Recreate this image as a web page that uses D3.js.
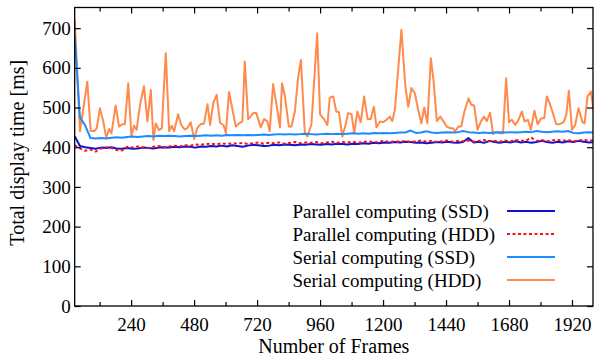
<!DOCTYPE html>
<html>
<head>
<meta charset="utf-8">
<script src="https://cdn.jsdelivr.net/npm/d3@7/dist/d3.min.js"></script>
<style>
  html, body { margin: 0; padding: 0; background: #fff; }
  svg { display: block; }
  text { font-family: "Liberation Serif", "Times New Roman", serif; fill: #000; }
</style>
</head>
<body>
<svg id="chart" width="595" height="360"></svg>
<script>
// ---------------- DATA ----------------
const majorTicksX = [240, 480, 720, 960, 1200, 1440, 1680, 1920];
const minorTicksX = [120, 360, 600, 840, 1080, 1320, 1560, 1800];
const ticksY = [0, 100, 200, 300, 400, 500, 600, 700];

const seriesNames = ["Parallel computing (SSD)", "Parallel computing (HDD)", "Serial computing (SSD)", "Serial computing (HDD)"];

// frames shared by the three flat series (every 20 frames)
const flatFrames = d3.range(25, 2006, 20);

const parallelSSD = [428,403,400,398,396,399,398,400,397,396,398,396,397,399,398,397,399,400,399,401,
  400,402,401,399,402,401,403,402,404,402,405,403,401,404,406,405,403,404,406,405,
  407,406,405,407,406,408,407,406,408,407,409,408,407,409,408,410,409,411,410,412,
  411,413,412,414,413,411,412,410,411,413,412,414,412,411,413,423,412,414,411,416,
  413,411,414,412,415,412,414,411,413,416,413,411,414,412,415,413,416,414,412,413];

const parallelHDD = [405,397,391,394,389,397,400,398,393,392,401,399,402,400,398,401,403,400,402,404,
  402,405,404,407,406,408,409,407,410,408,410,409,411,408,410,412,409,411,410,412,
  409,411,413,410,412,411,413,410,412,414,411,413,412,414,411,413,415,412,414,416,
  413,415,414,416,413,415,417,414,416,413,415,417,414,416,415,417,414,416,418,415,
  416,414,417,415,418,416,417,424,416,418,415,417,419,416,418,415,417,419,416,418];

const serialSSD = [680,475,455,423,422,423,422,424,425,424,426,427,426,427,428,427,429,428,429,428,
  427,428,429,428,429,430,429,430,429,431,430,431,430,431,430,431,432,431,432,433,
  432,433,432,433,434,433,432,433,434,433,434,433,434,435,434,435,434,436,435,436,
  435,436,437,437,442,436,437,440,437,436,437,438,437,438,441,438,437,436,437,436,
  437,438,437,438,437,438,439,438,441,439,438,439,440,439,441,436,435,437,438,437];

// serial HDD has its own (irregular) frame positions
const serialHDDFrames = [25,45,73,86,101,109,121,134,145,156,
  165,181,194,206,216,229,241,251,261,274,
  289,302,315,325,334,346,357,372,385,395,
  404,419,431,444,454,467,480,492,505,518,
  531,541,553,566,579,592,601,613,624,639,
  651,664,673,686,705,717,734,747,759,768,
  781,793,807,815,826,841,851,864,876,887,
  902,912,927,949,960,975,988,997,1010,1022,
  1032,1045,1057,1067,1080,1090,1102,1115,1128,1141,
  1153,1165,1175,1188,1200,1213,1226,1235,1245,1270,
  1285,1296,1308,1321,1334,1346,1357,1369,1382,1392,
  1405,1418,1430,1443,1455,1466,1475,1487,1498,1510,
  1526,1536,1547,1560,1573,1585,1595,1608,1619,1631,
  1646,1657,1669,1680,1691,1704,1716,1729,1739,1752,
  1763,1777,1789,1802,1814,1824,1837,1847,1860,1873,
  1888,1898,1908,1920,1932,1945,1960,1968,1979,1992,
  2005];
const serialHDD = [722,440,565,441,441,448,498,465,424,446,
  435,505,452,458,458,561,429,454,444,507,
  554,465,544,418,460,443,448,637,440,454,
  440,483,456,445,448,463,421,448,458,460,
  508,456,511,532,461,456,435,539,502,452,
  460,465,616,470,486,486,450,471,465,440,
  559,511,450,561,529,452,452,490,574,620,
  435,427,458,687,483,471,456,525,528,490,
  488,427,456,486,483,435,490,463,528,471,
  471,502,450,465,463,469,477,466,494,696,
  553,502,549,536,494,460,500,460,624,570,
  466,477,465,452,448,448,440,452,452,490,
  523,507,505,444,465,477,466,487,433,438,
  435,435,574,463,469,456,469,490,465,469,
  444,492,458,473,473,528,507,486,458,458,
  463,481,542,444,456,498,463,460,528,540,
  481];

const colors = ["#0A14D2", "#FF1010", "#1A8CFF", "#FF8A4C"];

// ---------------- CHART ----------------
const svg = d3.select("#chart");
const L = 74.7, R = 593, T = 7.5, B = 306;

const x = d3.scaleLinear().domain([25, 2000]).range([L, R]);
const y = d3.scaleLinear().domain([0, 752]).range([B, T]);

svg.append("rect").attr("width", 595).attr("height", 360).attr("fill", "#fff");

svg.append("defs").append("clipPath").attr("id", "clip")
  .append("rect").attr("x", L).attr("y", T).attr("width", R - L).attr("height", B - T);

const plot = svg.append("g").attr("clip-path", "url(#clip)");

function drawLine(frames, vals, color, dash) {
  const line = d3.line().x((d, i) => x(frames[i])).y(d => y(d));
  const p = plot.append("path").datum(vals)
    .attr("d", line).attr("fill", "none")
    .attr("stroke", color).attr("stroke-width", 2)
    .attr("stroke-linejoin", "round");
  if (dash) p.attr("stroke-dasharray", dash);
}

drawLine(serialHDDFrames, serialHDD, colors[3]);
drawLine(flatFrames, serialSSD, colors[2]);
drawLine(flatFrames, parallelSSD, colors[0]);
drawLine(flatFrames, parallelHDD, colors[1], "3,2.5");

// Axes
const fontSize = 19;
function styleAxis(g) {
  g.selectAll(".domain").remove();
  g.selectAll("line").attr("stroke", "#000").attr("stroke-width", 1.2);
  g.selectAll("text").style("font-size", fontSize + "px").style("font-family", "Liberation Serif, serif");
}

svg.append("g").attr("transform", `translate(0,${B})`)
  .call(d3.axisBottom(x).tickValues(majorTicksX).tickSize(-6).tickPadding(12).tickFormat(d3.format("d")))
  .call(styleAxis);
svg.append("g").attr("transform", `translate(0,${B})`)
  .call(d3.axisBottom(x).tickValues(minorTicksX).tickSize(-4).tickFormat(""))
  .call(styleAxis);
svg.append("g").attr("transform", `translate(0,${T})`)
  .call(d3.axisTop(x).tickValues(majorTicksX).tickSize(-6).tickFormat(""))
  .call(styleAxis);
svg.append("g").attr("transform", `translate(0,${T})`)
  .call(d3.axisTop(x).tickValues(minorTicksX).tickSize(-4).tickFormat(""))
  .call(styleAxis);

svg.append("g").attr("transform", `translate(${L},0)`)
  .call(d3.axisLeft(y).tickValues(ticksY).tickSize(-6).tickPadding(4).tickFormat(d3.format("d")))
  .call(styleAxis);
svg.append("g").attr("transform", `translate(${R},0)`)
  .call(d3.axisRight(y).tickValues(ticksY).tickSize(-6).tickFormat(""))
  .call(styleAxis);

// frame
svg.append("rect").attr("x", L).attr("y", T).attr("width", R - L).attr("height", B - T)
  .attr("fill", "none").attr("stroke", "#000").attr("stroke-width", 1.3);

// Axis titles
svg.append("text").attr("x", (L + R) / 2 - 0).attr("y", 353)
  .attr("text-anchor", "middle").style("font-size", "20px").text("Number of Frames");
svg.append("text").attr("transform", `translate(24,${(T + B) / 2 - 4}) rotate(-90)`)
  .attr("text-anchor", "middle").style("font-size", "20px").text("Total display time [ms]");

// Legend
const legendY = [211, 234, 257, 280];
const legend = svg.append("g");
seriesNames.forEach((name, i) => {
  legend.append("text").attr("x", 292.5).attr("y", legendY[i]).attr("dy", "0.35em")
    .style("font-size", fontSize + "px").text(name);
  const ln = legend.append("line").attr("x1", 507).attr("x2", 555)
    .attr("y1", legendY[i]).attr("y2", legendY[i])
    .attr("stroke", colors[i]).attr("stroke-width", 2);
  if (i === 1) ln.attr("stroke-dasharray", "3,2.5");
});
</script>
</body>
</html>
